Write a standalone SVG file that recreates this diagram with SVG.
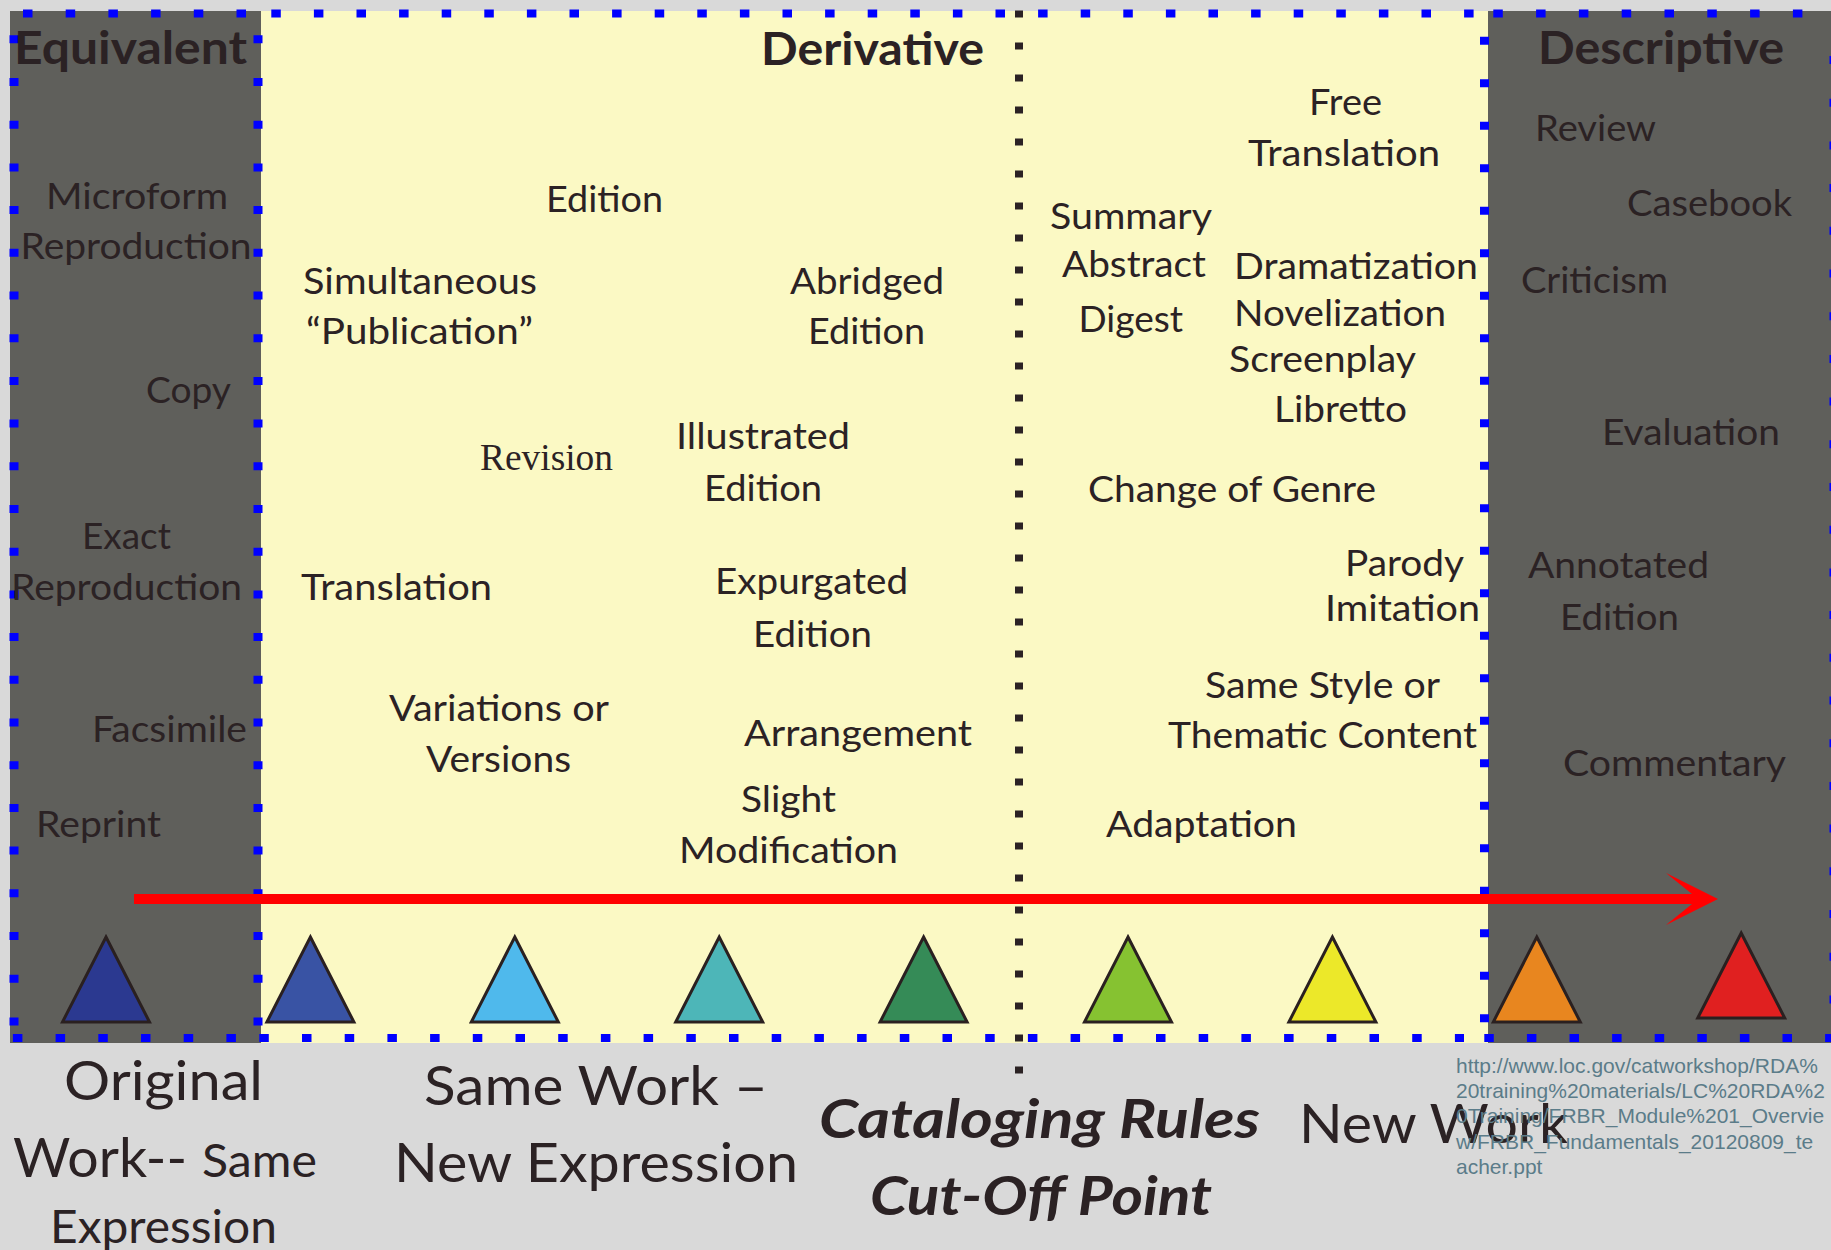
<svg xmlns="http://www.w3.org/2000/svg" width="1831" height="1250" viewBox="0 0 1831 1250">
<style>
.t{font-family:Lato,"Open Sans","Liberation Sans",sans-serif;fill:#2b2224;font-size:37px}
.h{font-weight:bold;font-size:45px}
.b{font-size:54px}
.ci{font-weight:bold;font-style:italic;font-size:53px}
.rev{font-family:"Liberation Serif",serif;font-size:38px}
.url{font-family:"Liberation Sans",Arial,sans-serif;font-size:21px;fill:#5b7c89}
.tri{stroke:#2a2020;stroke-width:3;stroke-linejoin:miter}
.bh{stroke:#0000ff;stroke-width:8;fill:none}
.bv{stroke:#0000ff;stroke-width:9;fill:none;stroke-dasharray:8 34.7}
.blk{stroke:#2b2224;stroke-width:8;fill:none;stroke-dasharray:7 25}
</style>
<rect x="0" y="0" width="1831" height="1250" fill="#d9d9d9"/>
<g id="panels">
<rect id="equivalent-panel" x="10" y="11" width="251" height="1032" fill="#5f5f5b"/>
<rect id="derivative-panel" x="261" y="11" width="1227" height="1032" fill="#fbf9c4"/>
<rect id="descriptive-panel" x="1488" y="11" width="343" height="1032" fill="#5f5f5b"/>
</g>
<g id="borders">
<line class="bh" x1="23" y1="13.5" x2="246" y2="13.5" stroke-dasharray="9.5 33.2"/>
<line class="bh" x1="271.3" y1="13.5" x2="1474" y2="13.5" stroke-dasharray="9.5 33.1"/>
<line class="bh" x1="1493.3" y1="13.5" x2="1831" y2="13.5" stroke-dasharray="9.5 33.3"/>
<line class="bh" x1="12.9" y1="1038" x2="237" y2="1038" stroke-dasharray="9.5 33.2"/>
<line class="bh" x1="259.3" y1="1038" x2="1464" y2="1038" stroke-dasharray="9.5 33.2"/>
<line class="bh" x1="1484.3" y1="1038" x2="1831" y2="1038" stroke-dasharray="9.5 33.1"/>
<line class="bv" x1="14" y1="35.3" x2="14" y2="1030"/>
<line class="bv" x1="258" y1="35.3" x2="258" y2="1030"/>
<line class="bv" x1="1484.5" y1="36.7" x2="1484.5" y2="1030" style="stroke-dasharray:8 34.5"/>
<line class="bv" x1="1834" y1="56" x2="1834" y2="1030"/>
<line id="cutoff-line" class="blk" x1="1019" y1="10.5" x2="1019" y2="1075"/>
</g>
<g id="headings">
<g id="h-equivalent"><text class="t h" x="14" y="64" textLength="233" lengthAdjust="spacingAndGlyphs">Equivalent</text></g>
<g id="h-derivative"><text class="t h" x="761" y="65" textLength="223" lengthAdjust="spacingAndGlyphs">Derivative</text></g>
<g id="h-descriptive"><text class="t h" x="1538" y="64" textLength="246" lengthAdjust="spacingAndGlyphs">Descriptive</text></g>
</g>
<g id="equivalent-items">
<g id="n-microform"><text class="t" x="46" y="209" textLength="182" lengthAdjust="spacingAndGlyphs">Microform</text><text class="t" x="20.5" y="259" textLength="231" lengthAdjust="spacingAndGlyphs">Reproduction</text></g>
<g id="n-copy"><text class="t" x="146" y="403" textLength="85" lengthAdjust="spacingAndGlyphs">Copy</text></g>
<g id="n-exact"><text class="t" x="82" y="549" textLength="89" lengthAdjust="spacingAndGlyphs">Exact</text><text class="t" x="11" y="600" textLength="231" lengthAdjust="spacingAndGlyphs">Reproduction</text></g>
<g id="n-facsimile"><text class="t" x="92" y="742" textLength="155" lengthAdjust="spacingAndGlyphs">Facsimile</text></g>
<g id="n-reprint"><text class="t" x="36" y="837" textLength="125" lengthAdjust="spacingAndGlyphs">Reprint</text></g>
</g>
<g id="derivative-items">
<g id="n-edition"><text class="t" x="546" y="212" textLength="117" lengthAdjust="spacingAndGlyphs">Edition</text></g>
<g id="n-simultaneous"><text class="t" x="303" y="294" textLength="234" lengthAdjust="spacingAndGlyphs">Simultaneous</text><text class="t" x="306" y="344" textLength="227" lengthAdjust="spacingAndGlyphs">“Publication”</text></g>
<g id="n-abridged"><text class="t" x="790" y="294" textLength="154" lengthAdjust="spacingAndGlyphs">Abridged</text><text class="t" x="808" y="344" textLength="117" lengthAdjust="spacingAndGlyphs">Edition</text></g>
<g id="n-revision"><text class="t rev" x="480" y="470" textLength="133" lengthAdjust="spacingAndGlyphs">Revision</text></g>
<g id="n-illustrated"><text class="t" x="676" y="449" textLength="174" lengthAdjust="spacingAndGlyphs">Illustrated</text><text class="t" x="704" y="501" textLength="118" lengthAdjust="spacingAndGlyphs">Edition</text></g>
<g id="n-translation"><text class="t" x="301" y="600" textLength="191" lengthAdjust="spacingAndGlyphs">Translation</text></g>
<g id="n-expurgated"><text class="t" x="715" y="594" textLength="193" lengthAdjust="spacingAndGlyphs">Expurgated</text><text class="t" x="753" y="647" textLength="119" lengthAdjust="spacingAndGlyphs">Edition</text></g>
<g id="n-variations"><text class="t" x="389" y="721" textLength="220" lengthAdjust="spacingAndGlyphs">Variations or</text><text class="t" x="426" y="772" textLength="145" lengthAdjust="spacingAndGlyphs">Versions</text></g>
<g id="n-arrangement"><text class="t" x="744" y="746" textLength="228" lengthAdjust="spacingAndGlyphs">Arrangement</text></g>
<g id="n-slight"><text class="t" x="741" y="812" textLength="95" lengthAdjust="spacingAndGlyphs">Slight</text><text class="t" x="679" y="863" textLength="219" lengthAdjust="spacingAndGlyphs">Modification</text></g>
</g>
<g id="newwork-items">
<g id="n-free"><text class="t" x="1309" y="115" textLength="73" lengthAdjust="spacingAndGlyphs">Free</text><text class="t" x="1248" y="166" textLength="192" lengthAdjust="spacingAndGlyphs">Translation</text></g>
<g id="n-summary"><text class="t" x="1050" y="229" textLength="162" lengthAdjust="spacingAndGlyphs">Summary</text><text class="t" x="1062" y="277" textLength="144" lengthAdjust="spacingAndGlyphs">Abstract</text><text class="t" x="1078.5" y="332" textLength="104.5" lengthAdjust="spacingAndGlyphs">Digest</text></g>
<g id="n-dramatization"><text class="t" x="1234" y="279" textLength="244" lengthAdjust="spacingAndGlyphs">Dramatization</text><text class="t" x="1234" y="326" textLength="212" lengthAdjust="spacingAndGlyphs">Novelization</text><text class="t" x="1229" y="372" textLength="187" lengthAdjust="spacingAndGlyphs">Screenplay</text><text class="t" x="1274" y="422" textLength="133" lengthAdjust="spacingAndGlyphs">Libretto</text></g>
<g id="n-genre"><text class="t" x="1088" y="502" textLength="288" lengthAdjust="spacingAndGlyphs">Change of Genre</text></g>
<g id="n-parody"><text class="t" x="1345" y="576" textLength="119" lengthAdjust="spacingAndGlyphs">Parody</text><text class="t" x="1325" y="621" textLength="155" lengthAdjust="spacingAndGlyphs">Imitation</text></g>
<g id="n-style"><text class="t" x="1205" y="698" textLength="235" lengthAdjust="spacingAndGlyphs">Same Style or</text><text class="t" x="1168" y="748" textLength="309" lengthAdjust="spacingAndGlyphs">Thematic Content</text></g>
<g id="n-adaptation"><text class="t" x="1106" y="837" textLength="191" lengthAdjust="spacingAndGlyphs">Adaptation</text></g>
</g>
<g id="descriptive-items">
<g id="n-review"><text class="t" x="1535" y="141" textLength="121" lengthAdjust="spacingAndGlyphs">Review</text></g>
<g id="n-casebook"><text class="t" x="1627" y="216" textLength="165" lengthAdjust="spacingAndGlyphs">Casebook</text></g>
<g id="n-criticism"><text class="t" x="1521" y="293" textLength="147" lengthAdjust="spacingAndGlyphs">Criticism</text></g>
<g id="n-evaluation"><text class="t" x="1602" y="445" textLength="178" lengthAdjust="spacingAndGlyphs">Evaluation</text></g>
<g id="n-annotated"><text class="t" x="1528" y="578" textLength="181" lengthAdjust="spacingAndGlyphs">Annotated</text><text class="t" x="1560" y="630" textLength="119" lengthAdjust="spacingAndGlyphs">Edition</text></g>
<g id="n-commentary"><text class="t" x="1563" y="776" textLength="223" lengthAdjust="spacingAndGlyphs">Commentary</text></g>
</g>
<g id="connectors">
<rect x="134" y="894" width="1558" height="10" fill="#ff0000"/>
<path d="M1666,873 L1718,899 L1666,925 L1692,904 L1692,894 Z" fill="#ff0000"/>
</g>
<g id="triangles">
<g id="tri-1"><polygon class="tri" points="106,937 149.5,1022 62.5,1022" fill="#2b3990"/></g>
<g id="tri-2"><polygon class="tri" points="310.4,937 353.9,1022 266.9,1022" fill="#3953a4"/></g>
<g id="tri-3"><polygon class="tri" points="514.8,937 558.3,1022 471.3,1022" fill="#4fb9ec"/></g>
<g id="tri-4"><polygon class="tri" points="719.2,937 762.7,1022 675.7,1022" fill="#4db6b8"/></g>
<g id="tri-5"><polygon class="tri" points="923.6,937 967.1,1022 880.1,1022" fill="#358b57"/></g>
<g id="tri-6"><polygon class="tri" points="1128,937 1171.5,1022 1084.5,1022" fill="#86c231"/></g>
<g id="tri-7"><polygon class="tri" points="1332.4,937 1375.9,1022 1288.9,1022" fill="#ece829"/></g>
<g id="tri-8"><polygon class="tri" points="1536.8,937 1580.3,1022 1493.3,1022" fill="#e8861f"/></g>
<g id="tri-9"><polygon class="tri" points="1741.2,933 1784.7,1018 1697.7,1018" fill="#e02020"/></g>
</g>
<g id="bottom-labels">
<g id="l-original"><text class="t b" x="64" y="1100" textLength="199" lengthAdjust="spacingAndGlyphs">Original</text><text class="t b" x="13" y="1177" textLength="174" lengthAdjust="spacingAndGlyphs">Work--</text><text class="t" x="202" y="1177" style="font-size:47px" textLength="115" lengthAdjust="spacingAndGlyphs">Same</text><text class="t" x="50" y="1243" style="font-size:46px" textLength="227" lengthAdjust="spacingAndGlyphs">Expression</text></g>
<g id="l-samework"><text class="t b" x="424" y="1105" textLength="344" lengthAdjust="spacingAndGlyphs">Same Work –</text><text class="t b" x="394" y="1182" textLength="404" lengthAdjust="spacingAndGlyphs">New Expression</text></g>
<g id="l-cutoff"><text class="t ci" x="819" y="1138" textLength="441" lengthAdjust="spacingAndGlyphs">Cataloging Rules</text><text class="t ci" x="870" y="1215" textLength="342" lengthAdjust="spacingAndGlyphs">Cut-Off Point</text></g>
<g id="l-newwork"><text class="t b" x="1299" y="1143" textLength="269" lengthAdjust="spacingAndGlyphs">New Work</text></g>
<g id="l-url"><text class="url" x="1456" y="1073">http://www.loc.gov/catworkshop/RDA%</text><text class="url" x="1456" y="1098">20training%20materials/LC%20RDA%2</text><text class="url" x="1456" y="1123">0Training/FRBR_Module%201_Overvie</text><text class="url" x="1456" y="1149">w/FRBR_Fundamentals_20120809_te</text><text class="url" x="1456" y="1174">acher.ppt</text></g>
</g>
</svg>
